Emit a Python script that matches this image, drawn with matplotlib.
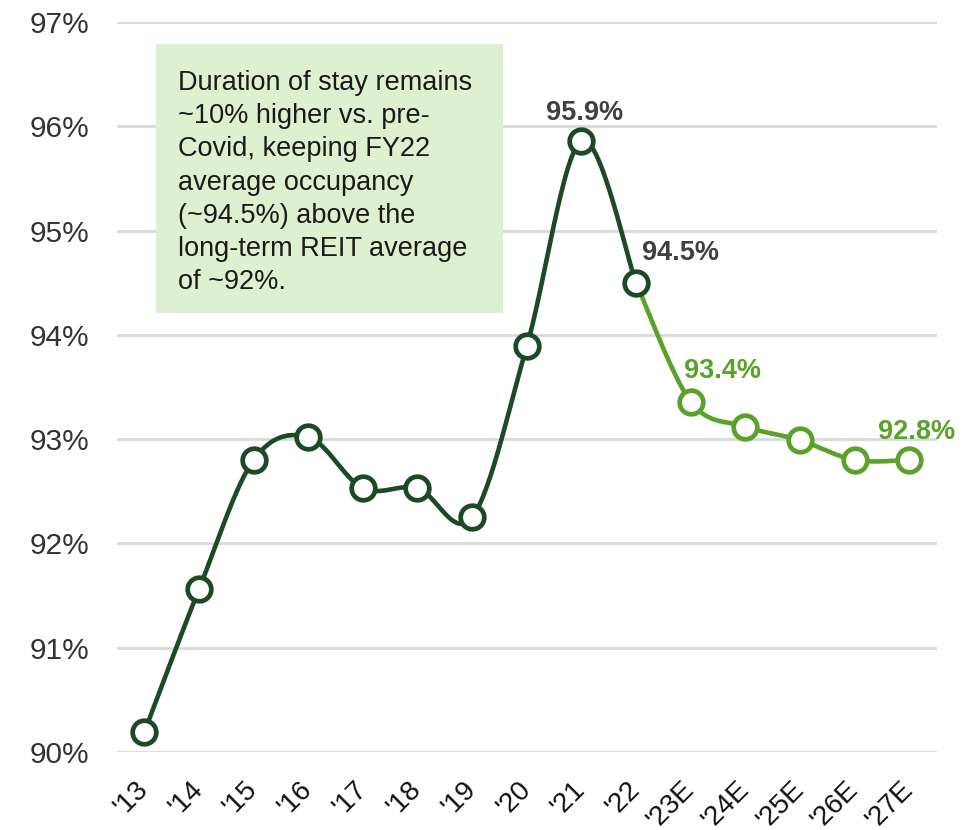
import numpy as np
import matplotlib.pyplot as plt

plt.rcParams['font.family'] = ['Liberation Sans', 'DejaVu Sans']

# Occupancy data (actual '13-'22, estimates '23E-'27E)
years = ["'13", "'14", "'15", "'16", "'17", "'18", "'19", "'20", "'21", "'22",
         "'23E", "'24E", "'25E", "'26E", "'27E"]
actual = [90.19, 91.56, 92.80, 93.02, 92.53, 92.53, 92.25, 93.89, 95.86, 94.50]
estimate = [94.50, 93.36, 93.12, 92.99, 92.80, 92.80]
labels_actual = {8: "95.9%", 9: "94.5%"}
labels_est = {10: "93.4%", 14: "92.8%"}

dark = '#1d4a26'
light = '#5aa22a'


def smooth(x, y, n=30):
    # Catmull-Rom style smoothing like a spreadsheet "smoothed line"
    x = np.asarray(x, float)
    y = np.asarray(y, float)
    px, py = [x[0]], [y[0]]
    for i in range(len(x) - 1):
        x0, y0 = (x[i - 1], y[i - 1]) if i > 0 else (x[i], y[i])
        x3, y3 = (x[i + 2], y[i + 2]) if i + 2 < len(x) else (x[i + 1], y[i + 1])
        c1x = x[i] + (x[i + 1] - x0) / 6
        c1y = y[i] + (y[i + 1] - y0) / 6
        c2x = x[i + 1] - (x3 - x[i]) / 6
        c2y = y[i + 1] - (y3 - y[i]) / 6
        t = np.linspace(0, 1, n)[1:]
        bx = (1 - t) ** 3 * x[i] + 3 * (1 - t) ** 2 * t * c1x + 3 * (1 - t) * t ** 2 * c2x + t ** 3 * x[i + 1]
        by = (1 - t) ** 3 * y[i] + 3 * (1 - t) ** 2 * t * c1y + 3 * (1 - t) * t ** 2 * c2y + t ** 3 * y[i + 1]
        px.extend(bx)
        py.extend(by)
    return np.array(px), np.array(py)


fig = plt.figure(figsize=(9.71, 8.3), dpi=100)
ax = fig.add_axes([0.1205, 0.094, 0.844, 0.8795])

xa = np.arange(len(actual))
xe = np.arange(len(actual) - 1, len(years))

sx, sy = smooth(xe, estimate)
ax.plot(sx, sy, color=light, lw=3.3, zorder=3, solid_capstyle='round')
sx, sy = smooth(xa, actual)
ax.plot(sx, sy, color=dark, lw=3.3, zorder=4, solid_capstyle='round')

ax.plot(xe[1:], estimate[1:], 'o', ms=17, mfc='white', mec=light, mew=3.4, zorder=5)
ax.plot(xa, actual, 'o', ms=17, mfc='white', mec=dark, mew=3.4, zorder=6)

# data labels
offs = {8: (2, 10.5, 'center'), 9: (4, 12, 'left'), 10: (-5, 12.5, 'left'), 14: (5, 11, 'center')}
for i, txt in labels_actual.items():
    dx, dy, ha = offs[i]
    ax.annotate(txt, (xa[i], actual[i]), xytext=(dx, dy), textcoords='offset points',
                ha=ha, va='bottom', fontsize=19.5, fontweight='bold', color='#404040')
for i, txt in labels_est.items():
    dx, dy, ha = offs[i]
    ax.annotate(txt, (i, estimate[i - 9]), xytext=(dx, dy), textcoords='offset points',
                ha=ha, va='bottom', fontsize=19.5, fontweight='bold', color=light)

ax.set_xlim(-0.5, len(years) - 0.5)
ax.set_ylim(90, 97)
ax.set_yticks(np.arange(90, 98, 1))
ax.set_yticklabels([f'{v}%' for v in range(90, 98)], fontsize=21.5, color='#333333')
ax.set_xticks(np.arange(len(years)))
ax.set_xticklabels(years, fontsize=20, rotation=45, ha='right', va='center',
                   rotation_mode='anchor', color='#111111')
ax.tick_params(length=0)
ax.tick_params(axis='y', pad=20)
ax.tick_params(axis='x', pad=24)
ax.grid(axis='y', color='#d9d9d9', lw=2)
ax.set_axisbelow(True)
for s in ax.spines.values():
    s.set_visible(False)

note = ("Duration of stay remains\n~10% higher vs. pre-\nCovid, keeping FY22\n"
        "average occupancy\n(~94.5%) above the\nlong-term REIT average\nof ~92%.")
fig.text(178 / 971, 1 - 70 / 830, note, fontsize=19.5, va='top', ha='left', color='#1a1a1a',
         linespacing=1.36)
box = plt.Rectangle((156 / 971, 1 - 313 / 830), (503 - 156) / 971, (313 - 44) / 830,
                    transform=fig.transFigure, fc='#ddf0cf', ec='none', zorder=0)
fig.patches.append(box)

fig.savefig('out.png', dpi=100)
